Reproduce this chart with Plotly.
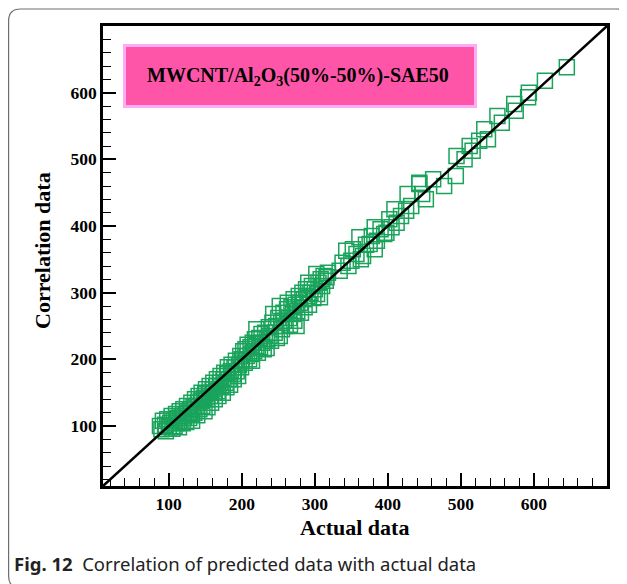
import plotly.graph_objects as go

# ---- data ----
actual = [88, 90, 92, 95, 96, 98, 100, 102, 104, 105, 107, 108, 110, 111, 112, 114, 115, 116, 118, 119,
          120, 121, 123, 124, 125, 126, 128, 129, 130, 131, 132, 134, 135, 136, 138, 139, 140, 141, 142, 144,
          145, 146, 148, 149, 150, 151, 152, 153, 155, 156, 157, 158, 160, 161, 162, 163, 165, 166, 167, 168,
          170, 171, 172, 174, 175, 176, 178, 179, 180, 181, 182, 184, 185, 186, 188, 189, 190, 192, 193, 195,
          196, 198, 199,
          200, 202, 204, 205, 207, 208, 210, 212, 213, 214, 215, 217, 218, 220, 220, 222, 224, 225, 227, 228,
          230, 232, 234, 235, 237, 238, 240, 242, 243, 245, 247, 248, 250, 252, 252, 254, 255, 257, 258, 260,
          262, 263, 265, 266, 268, 270, 271, 272, 274, 275, 276, 278, 280, 281, 283, 285, 286, 288, 290, 291,
          292, 294, 296, 298, 300, 302, 303, 305, 307, 308, 310, 312, 315, 316, 318,
          334, 338, 343, 346, 350, 352, 357, 361, 363, 366, 370, 375, 378, 382, 382, 385, 390, 395, 398, 402,
          405, 409, 412, 418, 425, 427, 432, 443, 443, 447, 452,
          462, 477, 493, 494, 505, 512, 516, 525, 532, 537, 550, 556, 573, 575, 592, 593, 615, 645]
correlation = [100, 95, 108, 102, 92, 110, 98, 105, 115, 96, 108, 100, 118, 104, 112, 98, 122, 108, 115, 104,
               125, 112, 118, 106, 130, 120, 112, 125, 118, 135, 108, 128, 120, 140, 130, 116, 135, 145, 125, 138,
               150, 130, 142, 122, 148, 155, 140, 128, 150, 160, 145, 135, 155, 165, 150, 140, 160, 170, 152, 145,
               165, 175, 160, 150, 170, 180, 165, 158, 178, 188, 170, 162, 182, 192, 178, 170, 188, 198, 182, 175,
               192, 205, 188,
               200, 212, 195, 215, 205, 222, 200, 218, 208, 198, 225, 212, 230, 245, 220, 210, 232, 218, 238, 225,
               215, 240, 217, 230, 248, 235, 228, 255, 268, 240, 250, 232, 262, 280, 235, 255, 245, 270, 258, 250,
               275, 285, 262, 252, 278, 268, 290, 258, 282, 250, 272, 295, 285, 270, 300, 290, 278, 305, 295, 315,
               282, 300, 310, 292, 305, 328, 298, 315, 293, 320, 310, 325, 318, 323, 330,
               333, 345, 363, 340, 348, 365, 358, 383, 350, 355, 372, 373, 385, 365, 398, 378, 395, 388, 390, 410,
               398, 425, 405, 415, 423, 448, 430, 465, 463, 448, 440,
               470, 460, 475, 505, 500, 520, 513, 528, 545, 530, 565, 555, 583, 573, 593, 600, 618, 638]
line_x = [10, 700]
line_y = [10, 700]

x_range = [10, 700]
y_range = [10, 700]
tick_vals = [100, 200, 300, 400, 500, 600]

title_text = "MWCNT/Al<sub>2</sub>O<sub>3</sub>(50%-50%)-SAE50"
x_title = "Actual data"
y_title = "Correlation data"
caption_bold = "Fig. 12"
caption_text = "Correlation of predicted data with actual data"

# ---- geometry (page pixels; the page body has an 8 px margin) ----
OFF = 8
W, H = 627 - OFF, 584 - OFF
ML, MR, MT, MB = 103 - OFF, 20, 26 - OFF, 98


def px(x):
    return (x - OFF - ML) / (W - ML - MR)


def py(y):
    return (H - MB - (y - OFF)) / (H - MT - MB)


fig = go.Figure()
fig.add_trace(go.Scatter(
    x=actual, y=correlation, mode="markers",
    marker=dict(symbol="square-open", size=15, color="#19a35b", line=dict(width=1.5, color="#19a35b")),
    showlegend=False, hoverinfo="skip"))
fig.add_trace(go.Scatter(
    x=line_x, y=line_y, mode="lines", line=dict(color="black", width=2.5),
    showlegend=False, hoverinfo="skip"))

tickfont = dict(family="Liberation Serif", size=17.5, color="black", weight="bold")
axis_common = dict(
    showgrid=False, zeroline=False, showline=True, linecolor="black", linewidth=2.5, mirror=True,
    ticks="inside", ticklen=13, tickwidth=2, tickcolor="black", tickvals=tick_vals,
    tickfont=tickfont,
    minor=dict(ticks="inside", ticklen=8, tickwidth=1.2, tickcolor="black", dtick=20, tick0=0),
)
fig.update_xaxes(range=x_range, **axis_common)
fig.update_yaxes(range=y_range, **axis_common)

# outer rounded frame
r = 12
x0, y0, x1, y1 = 8.6, 9, 629, 588
path = (f"M {px(x0)},{py(y0 + r)} L {px(x0)},{py(y1 - r)} "
        f"Q {px(x0)},{py(y1)} {px(x0 + r)},{py(y1)} L {px(x1 - r)},{py(y1)} "
        f"Q {px(x1)},{py(y1)} {px(x1)},{py(y1 - r)} L {px(x1)},{py(y0 + r)} "
        f"Q {px(x1)},{py(y0)} {px(x1 - r)},{py(y0)} L {px(x0 + r)},{py(y0)} "
        f"Q {px(x0)},{py(y0)} {px(x0)},{py(y0 + r)} Z")
shapes = [
    dict(type="path", xref="paper", yref="paper", path=path, line=dict(color="#6e6e6e", width=1.2), layer="below"),
    dict(type="rect", xref="paper", yref="paper", x0=px(124.5), x1=px(475.5), y0=py(106.5), y1=py(45.5),
         fillcolor="#ff55a8", line=dict(color="#ffaaf5", width=3), layer="above"),
]

annotations = [
    dict(text=title_text, xref="paper", yref="paper", x=px(298), y=py(76), showarrow=False,
         xanchor="center", yanchor="middle",
         font=dict(family="Liberation Serif", size=20, color="black", weight="bold")),
    dict(text=x_title, xref="paper", yref="paper", x=px(354), y=py(527), showarrow=False,
         xanchor="center", yanchor="middle",
         font=dict(family="Liberation Serif", size=22, color="black", weight="bold")),
    dict(text=y_title, xref="paper", yref="paper", x=px(43), y=py(251), showarrow=False, textangle=-90,
         xanchor="center", yanchor="middle",
         font=dict(family="Liberation Serif", size=22, color="black", weight="bold")),
    dict(text=f"<b>{caption_bold}</b>  {caption_text}", xref="paper", yref="paper", x=px(12), y=py(563),
         showarrow=False, xanchor="left", yanchor="middle",
         font=dict(family="Noto Sans", size=18.5, color="#222222")),
]

fig.update_layout(
    width=W, height=H, margin=dict(l=ML, r=MR, t=MT, b=MB),
    paper_bgcolor="white", plot_bgcolor="white",
    shapes=shapes, annotations=annotations,
)

fig.write_html("out.html")
